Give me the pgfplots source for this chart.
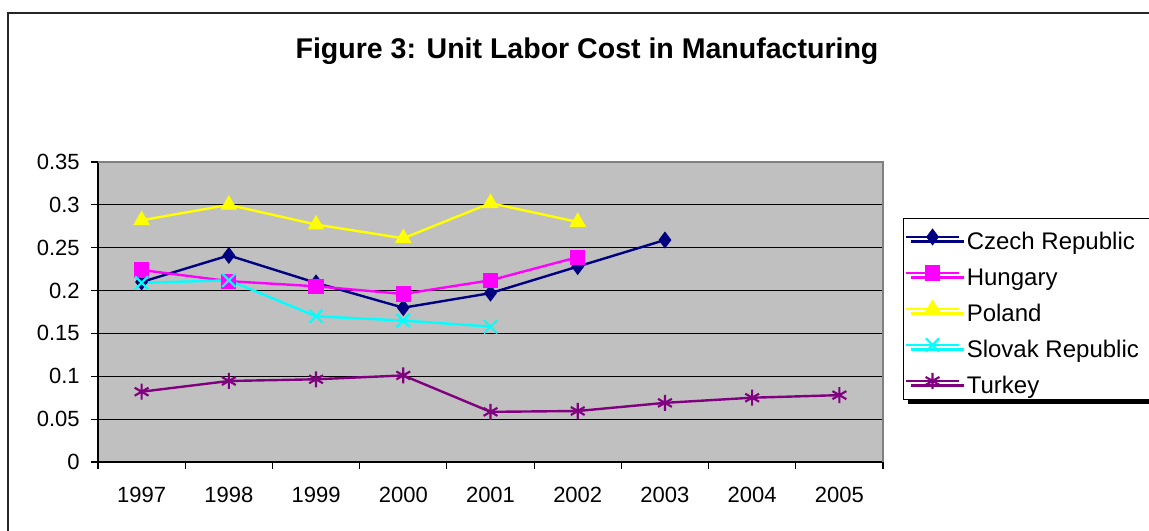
\documentclass[border=0pt]{standalone}
\usepackage{pgfplots}
\pgfplotsset{compat=1.18}
\usepackage{fontspec}
\setmainfont{Liberation Sans}
\usetikzlibrary{shadows}

\definecolor{czech}{RGB}{0,0,128}
\definecolor{hung}{RGB}{255,0,255}
\definecolor{pol}{RGB}{255,255,0}
\definecolor{slov}{RGB}{0,255,255}
\definecolor{turk}{RGB}{128,0,128}
\definecolor{plotgray}{RGB}{192,192,192}

\newcommand\lentry[1]{\makebox[150pt][l]{\rule[-9.5pt]{0pt}{29.5pt}\hspace{3pt}#1}}

\begin{document}
\begin{tikzpicture}
\useasboundingbox (0,0) rectangle (861.75pt,398.25pt);
% outer chart frame (cut at the right and bottom)
\draw[line width=1.5pt, black!85] (6pt,-5pt) -- (6pt,388.5pt) -- (880pt,388.5pt);
\node[font=\bfseries\fontsize{21.4}{25}\selectfont, anchor=base]
  at (440.25pt,354pt) {Figure 3: Unit Labor Cost in Manufacturing};

\begin{axis}[
    at={(73.5pt,51.75pt)}, anchor=south west,
    scale only axis,
    width=588.75pt, height=225pt,
    xmin=-0.5, xmax=8.5,
    ymin=0, ymax=0.35,
    axis x line*=bottom, axis y line*=left,
    axis line style={-, black, line width=1pt},
    axis background/.style={fill=plotgray},
    xtick={0,1,2,3,4,5,6,7,8},
    xticklabels={1997,1998,1999,2000,2001,2002,2003,2004,2005},
    major x tick style={draw=none},
    minor xtick={-0.5,0.5,1.5,2.5,3.5,4.5,5.5,6.5,7.5,8.5},
    ytick={0,0.05,0.1,0.15,0.2,0.25,0.3,0.35},
    ymajorgrids,
    grid style={black, line width=0.9pt},
    tick style={black, line width=0.9pt},
    tick align=outside,
    major tick length=5.25pt, minor tick length=5.25pt,
    ticklabel style={font=\fontsize{16.5}{19}\selectfont},
    /pgf/number format/assume math mode=true,
    yticklabel style={/pgf/number format/fixed, /pgf/number format/precision=2, xshift=-5pt},
    xticklabel style={yshift=-10pt},
    legend style={
        at={(1.0255,0.8133)}, anchor=north west,
        draw=black, line width=0.9pt, fill=white,
        font=\fontsize{18}{21}\selectfont,
        row sep=1.5pt, inner sep=1pt,
        drop shadow={shadow xshift=3.5pt, shadow yshift=-3.5pt, fill=black, opacity=1},
    },
    legend cell align=left,
    legend image code/.code={
        \draw[mark repeat=2, mark phase=2, #1, line width=1.4pt]
            plot coordinates {(3pt,0pt) (23pt,0pt) (43pt,0pt)};
    },
    every axis plot/.append style={line width=1.8pt, mark options={solid, line width=1pt}},
    after end axis/.code={
        \draw[gray, line width=1pt] (rel axis cs:0,1) -- (rel axis cs:1,1) -- (rel axis cs:1,0);
    },
]

\addplot[color=czech, mark=diamond*, mark size=5.6pt] coordinates {
    (0,0.210) (1,0.241) (2,0.209) (3,0.180) (4,0.197) (5,0.228) (6,0.259)
};
\addlegendentry{\lentry{Czech Republic}}

\addplot[color=hung, mark=square*, mark size=5.2pt] coordinates {
    (0,0.224) (1,0.211) (2,0.205) (3,0.196) (4,0.212) (5,0.239)
};
\addlegendentry{\lentry{Hungary}}

\addplot[color=pol, mark=triangle*, mark size=6.3pt] coordinates {
    (0,0.282) (1,0.300) (2,0.277) (3,0.261) (4,0.302) (5,0.280)
};
\addlegendentry{\lentry{Poland}}

\addplot[color=slov, mark=x, mark size=7pt, mark options={line width=1.6pt}] coordinates {
    (0,0.209) (1,0.212) (2,0.170) (3,0.165) (4,0.158)
};
\addlegendentry{\lentry{Slovak Republic}}

\addplot[color=turk, mark=asterisk, mark size=6pt, mark options={line width=1.6pt}] coordinates {
    (0,0.082) (1,0.0945) (2,0.0965) (3,0.101) (4,0.0585) (5,0.0595) (6,0.069) (7,0.075) (8,0.078)
};
\addlegendentry{\lentry{Turkey}}

\end{axis}
\end{tikzpicture}
\end{document}
